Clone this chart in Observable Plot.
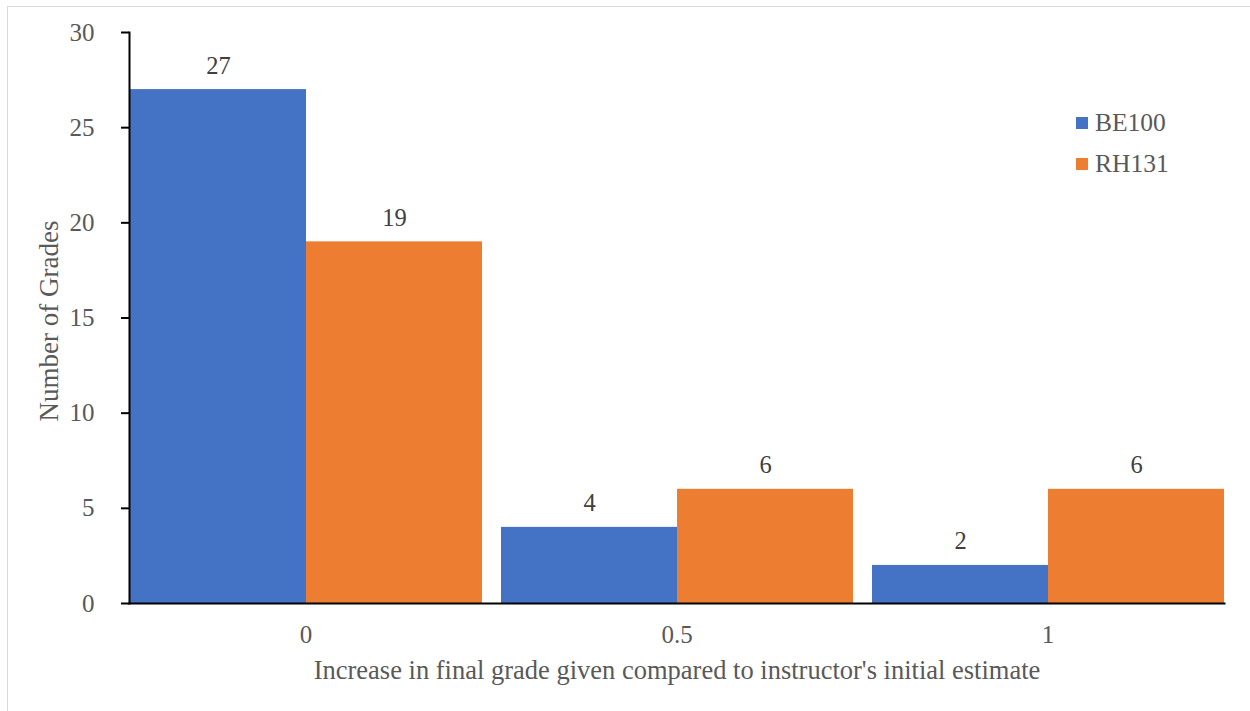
<!DOCTYPE html>
<html>
<head>
<meta charset="utf-8">
<script src="https://cdn.jsdelivr.net/npm/d3@7"></script>
<script src="https://cdn.jsdelivr.net/npm/@observablehq/plot@0.6"></script>
<style>
  html, body { margin: 0; padding: 0; background: #fff; }
  #wrap { position: relative; width: 1250px; height: 711px; overflow: hidden; background: #fff; }
  #wrap .edge-top { position: absolute; left: 7px; top: 6px; width: 1243px; height: 1px; background: #d9d9d9; }
  #wrap .edge-left { position: absolute; left: 7px; top: 6px; width: 1px; height: 705px; background: #d9d9d9; }
  #chart { position: absolute; left: 0; top: 0; }
  #legend { position: absolute; left: 1076px; top: 102px; font-family: "Liberation Serif", Tinos, "Times New Roman", "DejaVu Serif", serif; font-size: 25.5px; color: #595959; }
  #legend .row { display: flex; align-items: center; height: 41px; }
  #legend .sw { width: 12px; height: 12px; margin-right: 7px; }
</style>
</head>
<body>
<div id="wrap">
  <div class="edge-top"></div>
  <div class="edge-left"></div>
  <div id="chart"></div>
  <div id="legend"></div>
</div>
<script>
// Grade increase categories and counts per course
const increments = ["0", "0.5", "1"];
const courses = ["BE100", "RH131"];
const be100 = [27, 4, 2];
const rh131 = [19, 6, 6];
const courseColors = ["#4472C4", "#ED7D31"];
const yTicks = [0, 5, 10, 15, 20, 25, 30];
const xTitle = "Increase in final grade given compared to instructor's initial estimate";
const yTitle = "Number of Grades";

const rows = increments.flatMap((inc, i) => [
  {increment: inc, course: courses[0], count: be100[i]},
  {increment: inc, course: courses[1], count: rh131[i]}
]);

const serif = "\"Liberation Serif\", Tinos, \"Times New Roman\", \"DejaVu Serif\", serif";

const chart = Plot.plot({
  width: 1250,
  height: 711,
  marginTop: 32,
  marginBottom: 108,
  marginLeft: 120,
  marginRight: 17,
  style: {fontFamily: serif, fontSize: "24px", color: "#595959", background: "transparent"},
  fx: {domain: increments, paddingInner: 0.048, paddingOuter: 0.0215},
  x: {domain: courses, padding: 0, axis: null},
  y: {domain: [0, 30]},
  color: {domain: courses, range: courseColors},
  marks: [
    Plot.barY(rows, {fx: "increment", x: "course", y: "count", fill: "course"}),
    Plot.text(rows, {
      fx: "increment", x: "course", y: "count",
      text: d => String(d.count),
      lineAnchor: "bottom", dy: -16, fill: "#404040", fontSize: 24.5, fontFamily: serif
    }),
    Plot.axisY({ticks: yTicks, tickSize: 8, tickPadding: 27, stroke: "#000", strokeWidth: 2, label: null, fontSize: 25, fontFamily: serif, tickFormat: d => String(d)}),
    Plot.axisFx({anchor: "bottom", tickSize: 0, tickPadding: 22, label: null, fontSize: 25, fontFamily: serif}),
    Plot.frame({anchor: "left", facet: "super", stroke: "#000", strokeWidth: 2}),
    Plot.frame({anchor: "bottom", facet: "super", stroke: "#000", strokeWidth: 2}),
    Plot.text([yTitle], {frameAnchor: "left", facet: "super", textAnchor: "middle", lineAnchor: "middle", rotate: -90, dx: -80, dy: 3, fontSize: 27, fontFamily: serif, fill: "#595959"}),
    Plot.text([xTitle], {frameAnchor: "bottom", facet: "super", textAnchor: "middle", lineAnchor: "middle", dy: 67, fontSize: 26.5, fontFamily: serif, fill: "#595959"})
  ]
});
document.getElementById("chart").append(chart);

// Legend: one row per course
const legend = document.getElementById("legend");
courses.forEach((c, i) => {
  const row = document.createElement("div");
  row.className = "row";
  const sw = document.createElement("span");
  sw.className = "sw";
  sw.style.background = courseColors[i];
  const label = document.createElement("span");
  label.textContent = c;
  row.append(sw, label);
  legend.append(row);
});
</script>
</body>
</html>
